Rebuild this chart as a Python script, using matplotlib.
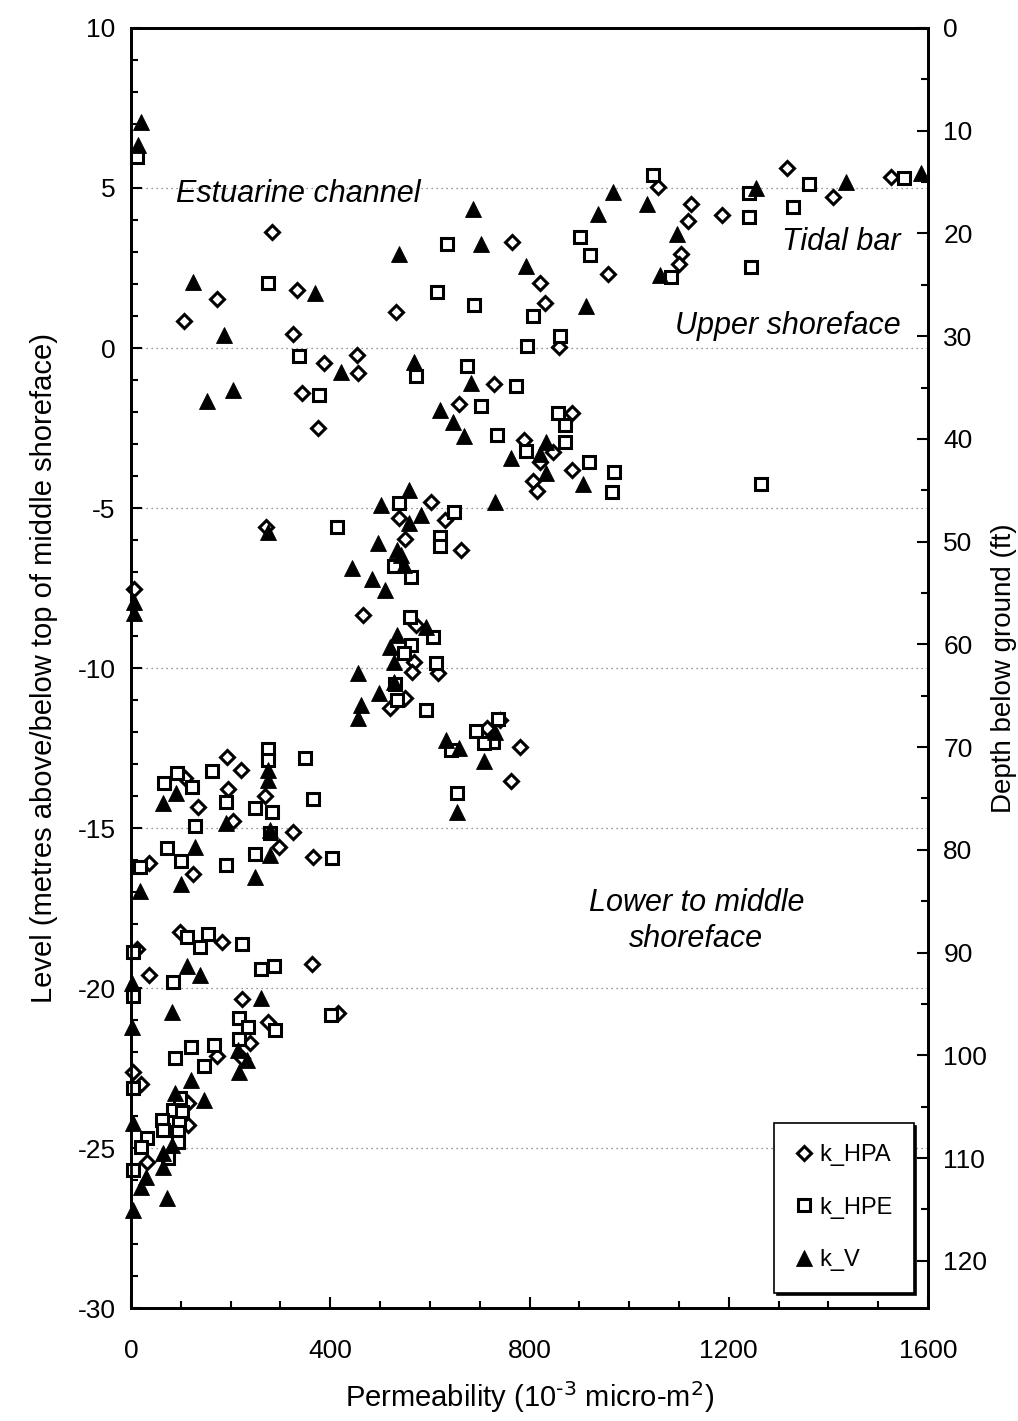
import matplotlib
matplotlib.use("Agg")
import matplotlib.pyplot as plt
from matplotlib.ticker import MultipleLocator

plt.rcParams['font.family'] = ['Liberation Sans', 'DejaVu Sans']
plt.rcParams['axes.unicode_minus'] = False

# permeability (10^-3 micro-m2) and level (m) for each measurement type
hpa_k = [284, 764, 173, 107, 333, 531, 325, 388, 454, 456, 344, 376, 729, 659, 789,
         822, 831, 860, 957, 1057, 1124, 1119, 1105, 1101, 1187, 1317, 1409, 1525,
         885, 848, 821, 808, 816, 886,
         602, 630, 538, 551, 662, 466, 573, 568, 617, 565, 550, 519, 741, 714, 780,
         763, 270, 6,
         193, 221, 108, 134, 195, 269, 204, 326, 298, 124, 366, 37, 98, 183, 13, 37,
         363, 223, 416, 274, 239, 222, 172, 3, 21, 115, 115, 32]
hpa_level = [3.62, 3.30, 1.53, 0.85, 1.81, 1.12, 0.44, -0.48, -0.22, -0.79, -1.40, -2.51,
             -1.13, -1.75, -2.87,
             2.02, 1.42, 0.04, 2.30, 5.04, 4.50, 3.98, 2.94, 2.63, 4.16, 5.63, 4.73, 5.35,
             -2.04, -3.24, -3.55, -4.15, -4.46, -3.81,
             -4.80, -5.37, -5.32, -5.98, -6.31, -8.34, -8.66, -9.80, -10.17, -10.11,
             -10.95, -11.26, -11.63, -11.88, -12.48, -13.52, -5.58, -7.53,
             -12.77, -13.19, -13.45, -14.33, -13.79, -14.0, -14.77, -15.12, -15.60,
             -16.44, -15.90, -16.08, -18.24, -18.57, -18.79, -19.59, -19.26, -20.35,
             -20.79, -21.05, -21.73, -22.2, -22.12, -22.62, -23.0, -23.60, -24.28, -25.43]

hpe_k = [12, 635, 276, 615, 689, 338, 572, 377, 674, 773, 702, 735, 793,
         1047, 901, 921, 808, 794, 861, 1085, 1241, 1241, 1244, 1362, 1328, 1551,
         858, 871, 871, 920, 970, 966, 1265,
         537, 649, 413, 620, 620, 527, 563, 560, 607, 563, 549, 612, 529, 533, 593,
         737, 693, 726, 709, 642, 655, 349, 365,
         274, 274, 162, 92, 67, 122, 191, 249, 284, 128, 279, 249, 72, 100, 191, 404,
         18, 113, 155, 139, 222, 3, 260, 288, 84, 3, 401, 217, 234, 289, 217, 88,
         120, 167, 147, 3, 98, 85, 102, 62, 97, 65, 95, 32, 21, 95, 75, 3]
hpe_level = [5.97, 3.25, 2.02, 1.74, 1.34, -0.25, -0.88, -1.47, -0.56, -1.19, -1.80,
             -2.72, -3.22,
             5.41, 3.48, 2.91, 1.0, 0.06, 0.375, 2.23, 4.83, 4.08, 2.52, 5.13, 4.42, 5.30,
             -2.04, -2.41, -2.93, -3.55, -3.88, -4.51, -4.25,
             -4.85, -5.12, -5.60, -5.90, -6.19, -6.81, -7.15, -8.40, -9.02, -9.28,
             -9.54, -9.83, -10.5, -11.0, -11.31, -11.6, -11.96, -12.30, -12.35,
             -12.56, -13.90, -12.82, -14.09,
             -12.54, -12.88, -13.21, -13.29, -13.58, -13.71, -14.18, -14.38, -14.49,
             -14.94, -15.15, -15.82, -15.63, -16.02, -16.16, -15.95,
             -16.21, -18.42, -18.31, -18.71, -18.63, -18.86, -19.39, -19.30, -19.80,
             -20.25, -20.84, -20.93, -21.21, -21.31, -21.60, -22.20,
             -21.83, -21.78, -22.44, -23.13, -23.45, -23.81, -23.87, -24.12, -24.23,
             -24.44, -24.49, -24.70, -24.96, -24.80, -25.32, -25.69]

v_k = [21, 14, 687, 702, 793, 537, 125, 187, 369, 422, 568, 153, 204, 683, 620, 647,
       669, 763, 967, 1035, 938, 913, 1097, 1061, 1255, 1435, 1585, 834, 822, 834,
       908, 731,
       558, 502, 582, 558, 495, 533, 543, 549, 443, 483, 510, 592, 533, 520, 527, 455,
       527, 498, 461, 456, 731, 632, 658, 709, 655, 274, 6, 6,
       274, 274, 90, 65, 191, 280, 279, 128, 100, 249, 18, 112, 139, 1, 260, 83, 2,
       215, 232, 217, 120, 88, 147, 3, 82, 64, 65, 30, 20, 73, 3]
v_level = [7.07, 6.34, 4.34, 3.25, 2.57, 2.94, 2.07, 0.41, 1.71, -0.74, -0.43, -1.65,
           -1.31, -1.08, -1.94, -2.30, -2.75, -3.45, 4.89, 4.50, 4.19, 1.31, 3.55, 2.28,
           4.99, 5.20, 5.48, -2.93, -3.3, -3.92, -4.25, -4.80,
           -4.44, -4.91, -5.22, -5.48, -6.10, -6.31, -6.47, -6.78, -6.88, -7.23, -7.56,
           -8.71, -8.97, -9.33, -9.80, -10.17, -10.43, -10.79, -11.16, -11.57, -11.99,
           -12.25, -12.51, -12.90, -14.51, -5.74, -7.93, -8.29,
           -13.19, -13.5, -13.92, -14.23, -14.83, -15.06, -15.84, -15.60, -16.75,
           -16.52, -16.96, -19.31, -19.59, -19.83, -20.32, -20.74, -21.21, -21.94,
           -22.25, -22.62, -22.87, -23.29, -23.5, -24.23, -24.91, -25.17, -25.6,
           -25.92, -26.21, -26.57, -26.94]

fig = plt.figure(figsize=(10.18, 14.21), dpi=100)
ax = fig.add_axes([0.1287, 0.0795, 0.7829, 0.9008])

ax.plot(hpa_k, hpa_level, ls='none', marker='D', ms=7.2, mfc='white', mec='black',
        mew=2.2, label='k_HPA', clip_on=False, zorder=3)
ax.plot(hpe_k, hpe_level, ls='none', marker='s', ms=9.3, mfc='white', mec='black',
        mew=2.2, label='k_HPE', clip_on=False, zorder=3)
ax.plot(v_k, v_level, ls='none', marker='^', ms=11, mfc='black', mec='black',
        mew=0.6, label='k_V', clip_on=False, zorder=4)

ax.set_xlim(0, 1600)
ax.set_ylim(-30, 10)
ax.xaxis.set_major_locator(MultipleLocator(400))
ax.xaxis.set_minor_locator(MultipleLocator(100))
ax.yaxis.set_major_locator(MultipleLocator(5))
ax.yaxis.set_minor_locator(MultipleLocator(1))
ax.tick_params(which='both', direction='in', width=1.5, labelsize=19, top=False)
ax.tick_params(which='major', length=8)
ax.tick_params(which='minor', length=5)
ax.tick_params(axis='x', pad=22)
ax.tick_params(axis='y', pad=11)
ax.grid(axis='y', which='major', ls=(0, (1, 3)), color='0.45', lw=0.9)
for s in ax.spines.values():
    s.set_linewidth(2)

ax.set_xlabel(r'Permeability (10$^{\text{-}3}$ micro-m$^{2}$)', fontsize=21,
              labelpad=12)
ax.set_ylabel('Level (metres above/below top of middle shoreface)', fontsize=21,
              labelpad=14)

# depth scale in feet on the right
ax2 = ax.twinx()
ax2.set_ylim(124.6, 0)
ax2.yaxis.set_major_locator(MultipleLocator(10))
ax2.yaxis.set_minor_locator(MultipleLocator(5))
ax2.tick_params(which='both', direction='in', width=1.5, labelsize=19, pad=11)
ax2.tick_params(which='major', length=8)
ax2.tick_params(which='minor', length=5)
ax2.set_ylabel('Depth below ground (ft)', fontsize=20, labelpad=3)
for s in ax2.spines.values():
    s.set_linewidth(2)

# facies names
tstyle = dict(fontsize=22, style='italic', zorder=5)
ax.text(90, 4.8, 'Estuarine channel', ha='left', va='center', **tstyle)
ax.text(1545, 3.3, 'Tidal bar', ha='right', va='center', **tstyle)
ax.text(1545, 0.7, 'Upper shoreface', ha='right', va='center', **tstyle)
ax.text(1135, -17.9, 'Lower to middle\nshoreface', ha='center', va='center',
        linespacing=1.25, **tstyle)

leg = ax.legend(loc='lower right', bbox_to_anchor=(0.982, 0.012), fontsize=17,
                frameon=True, fancybox=False, edgecolor='black', framealpha=1,
                shadow={'color': 'black', 'alpha': 1}, labelspacing=1.3,
                handlelength=0.7, handletextpad=0.3, borderpad=0.9,
                borderaxespad=0)
leg.get_frame().set_linewidth(1.2)
leg.set_zorder(10)

fig.savefig('out.png', dpi=100)
